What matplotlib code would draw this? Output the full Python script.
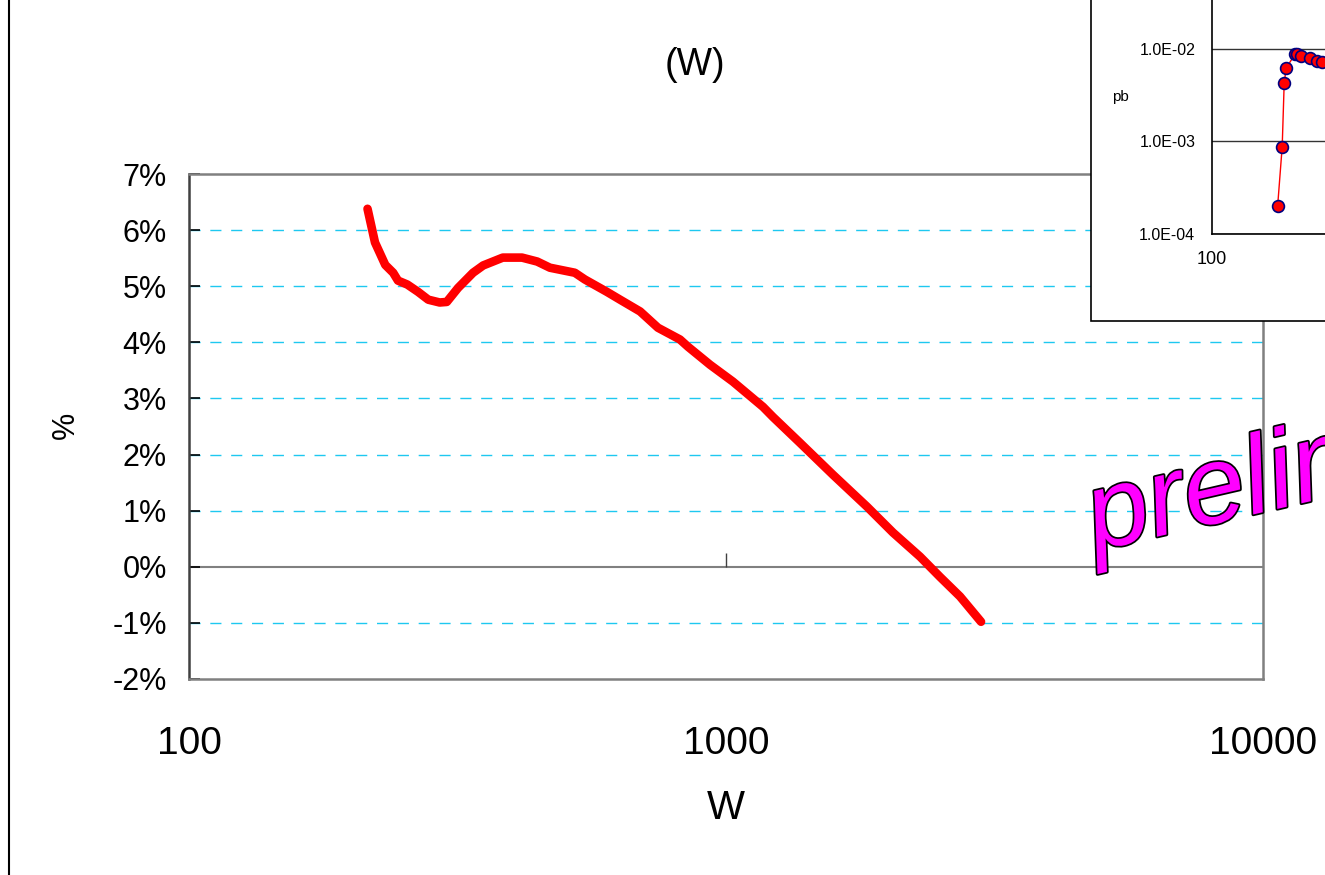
import matplotlib
matplotlib.use('Agg')
import matplotlib.pyplot as plt
import matplotlib.patheffects as pe
from matplotlib.patches import Rectangle
from matplotlib.lines import Line2D

# main curve: relative correction (%) vs W
w_main = [215, 222, 232, 240, 245, 255, 267, 279, 293, 302, 317, 338, 353, 384,
          417, 445, 470, 523, 546, 600, 635, 692, 747, 821, 850, 934, 1030, 1172,
          1223, 1373, 1582, 1831, 2046, 2298, 2503, 2728, 2985]
pct_main = [6.38, 5.78, 5.38, 5.24, 5.10, 5.03, 4.90, 4.76, 4.71, 4.72, 4.97, 5.24,
            5.37, 5.51, 5.51, 5.44, 5.33, 5.24, 5.12, 4.90, 4.76, 4.55, 4.26, 4.05,
            3.92, 3.60, 3.30, 2.85, 2.67, 2.21, 1.64, 1.07, 0.61, 0.18, -0.18,
            -0.53, -0.98]

# inset: cross section (pb) vs W
w_inset = [209, 220, 225, 230, 254, 261, 272, 301, 326, 343]
pb_inset = [2.0e-4, 8.8e-4, 4.3e-3, 6.2e-3, 8.8e-3, 8.8e-3, 8.3e-3, 7.9e-3, 7.5e-3, 7.2e-3]

y_ticks = [-2, -1, 0, 1, 2, 3, 4, 5, 6, 7]
x_ticks = [100, 1000, 10000]
inset_y_ticks = [1e-4, 1e-3, 1e-2]
inset_y_labels = ['1.0E-04', '1.0E-03', '1.0E-02']

W, H = 1325, 875
plt.rcParams['font.family'] = ['Liberation Sans', 'DejaVu Sans']

fig = plt.figure(figsize=(W / 100, H / 100), dpi=100)

# main axes
ax = fig.add_axes([189 / W, 1 - 679 / H, (1263 - 189) / W, (679 - 174) / H])
ax.set_xscale('log')
ax.set_xlim(100, 10000)
ax.set_ylim(-2, 7)

for g in [v for v in y_ticks if v not in (0, -2, 7)]:
    ax.axhline(g, color='#1ec8f0', lw=1, ls=(0, (8, 7)), zorder=1)
ax.axhline(0, color='#808080', lw=1.5, zorder=1)
ax.vlines(x_ticks[1], 0, 0.25, color='#404040', lw=1, zorder=1)

ax.plot(w_main, pct_main, color='red', lw=6.2, solid_capstyle='round',
        solid_joinstyle='round', zorder=3)

for s in ['top', 'right', 'bottom']:
    ax.spines[s].set_color('#808080')
    ax.spines[s].set_linewidth(1.8)
ax.spines['left'].set_color('#404040')
ax.spines['left'].set_linewidth(1.8)

ax.set_yticks(y_ticks)
ax.set_yticklabels([f'{v}%' for v in y_ticks], fontsize=22)
ax.tick_params(axis='y', direction='in', length=8, width=1.2, color='black', pad=16)
ax.set_xticks(x_ticks)
ax.set_xticklabels([str(v) for v in x_ticks], fontsize=28)
ax.xaxis.set_minor_locator(matplotlib.ticker.NullLocator())
ax.tick_params(axis='x', length=0, pad=34)

fig.text(726 / W, 1 - 808 / H, 'W', fontsize=29, ha='center', va='center')
fig.text(66 / W, 1 - 425 / H, '%', fontsize=22, rotation=90,
         ha='center', va='center')
fig.text(695 / W, 1 - 65 / H, '(W)', fontsize=27, ha='center', va='center')

# outer chart edge
fig.add_artist(Line2D([9 / W, 9 / W], [0, 1], color='black', lw=1.5))

# inset chart box
fig.add_artist(Rectangle((1091 / W, 1 - 321 / H), 1, 1, transform=fig.transFigure,
                         facecolor='white', edgecolor='black', lw=1.2, zorder=1.5))

ins = fig.add_axes([1212 / W, 1 - 234 / H, 410 / W, 277.5 / H])
ins.set_zorder(2)
ins.set_xscale('log')
ins.set_yscale('log')
ins.set_xlim(100, 10000)
ins.set_ylim(1e-4, 1e-1)
ins.set_yticks(inset_y_ticks)
ins.set_yticklabels(inset_y_labels, fontsize=11.5)
ins.set_xticks([100])
ins.set_xticklabels(['100'], fontsize=13)
ins.xaxis.set_minor_locator(matplotlib.ticker.NullLocator())
ins.yaxis.set_minor_locator(matplotlib.ticker.NullLocator())
ins.tick_params(length=0, pad=12)
ins.grid(axis='y', color='#333333', lw=1)
for s in ins.spines.values():
    s.set_color('black')
    s.set_linewidth(1.2)
ins.plot(w_inset, pb_inset, color='red', lw=1, marker='o', markersize=8.5,
         markerfacecolor='red', markeredgecolor='#000080', markeredgewidth=1.2)
fig.text(1120 / W, 1 - 97 / H, 'pb', fontsize=11, ha='center', va='center')

# watermark
fig.text(1095 / W, 1 - 551 / H, 'preliminary', fontsize=80, style='italic',
         color='#ff00ff', rotation=13, rotation_mode='anchor', ha='left',
         va='baseline', zorder=5,
         path_effects=[pe.withStroke(linewidth=2.5, foreground='black')])

fig.savefig('out.png', dpi=100)
